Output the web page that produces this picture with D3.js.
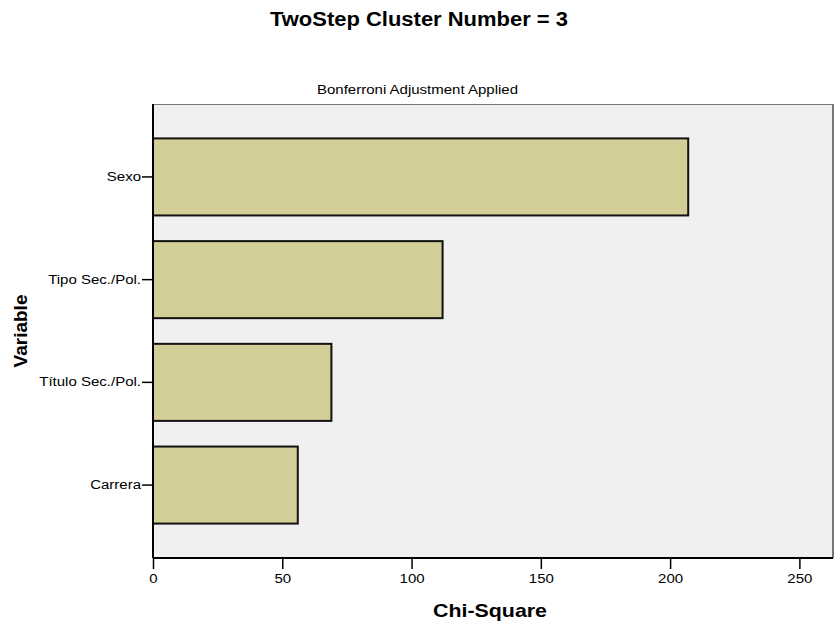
<!DOCTYPE html>
<html><head><meta charset="utf-8">
<script src="https://cdn.jsdelivr.net/npm/d3@7"></script>
<style>body{margin:0;background:#fff}svg{display:block;font-family:Arial,"Liberation Sans",sans-serif}</style>
</head><body><svg id="c" width="836" height="625"></svg>
<script>
const categories = ["Sexo", "Tipo Sec./Pol.", "Título Sec./Pol.", "Carrera"];
const chiSquare = [207, 112, 69, 56];
const xTicks = [0, 50, 100, 150, 200, 250];

const svg = d3.select("#c");
const m = {left:153, right:833, top:104, bottom:558};
const x = d3.scaleLinear().domain([0, 263]).range([m.left, m.right]);
const y = d3.scaleBand().domain(categories).range([m.top, m.bottom]).paddingInner(0.25).paddingOuter(0.335);

svg.append("rect").attr("x", m.left).attr("y", m.top).attr("width", m.right-m.left).attr("height", m.bottom-m.top)
  .attr("fill", "#f0f0f0");
svg.append("line").attr("x1", m.left).attr("x2", m.right).attr("y1", m.top+0.5).attr("y2", m.top+0.5).attr("stroke", "#777").attr("stroke-width", 1);
svg.append("line").attr("x1", m.right).attr("x2", m.right).attr("y1", m.top).attr("y2", m.bottom).attr("stroke", "#777").attr("stroke-width", 2);

svg.selectAll("rect.bar").data(categories).enter().append("rect").attr("class","bar")
  .attr("x", x(0)).attr("y", d => y(d))
  .attr("width", (d,i) => x(chiSquare[i]) - x(0)).attr("height", y.bandwidth())
  .attr("fill", "#d3ce97").attr("stroke", "#111").attr("stroke-width", 2);

const xAxis = svg.append("g").attr("transform", `translate(0,${m.bottom})`)
  .call(d3.axisBottom(x).tickValues(xTicks).tickSize(11).tickSizeOuter(0).tickPadding(5));
const yAxis = svg.append("g").attr("transform", `translate(${m.left},0)`)
  .call(d3.axisLeft(y).tickSize(11).tickSizeOuter(0).tickPadding(1));
[xAxis, yAxis].forEach(a => {
  a.select(".domain").attr("stroke", "#000").attr("stroke-width", 2);
  a.selectAll(".tick line").attr("stroke", "#000").attr("stroke-width", 1.5);
  a.selectAll("text").attr("font-size", 12.5).attr("fill", "#000").attr("font-family", "Arial, 'Liberation Sans', sans-serif")
    .attr("class", "stretch");
});
xAxis.select(".domain").attr("d", `M${m.left},0H${m.right}`);
yAxis.select(".domain").attr("d", `M0,${m.top}V${m.bottom}`);

svg.append("text").attr("x", 419).attr("y", 26).attr("text-anchor", "middle")
  .attr("font-size", 19.5).attr("font-weight", "bold").attr("data-w", 298).text("TwoStep Cluster Number = 3");
svg.append("text").attr("x", 417.5).attr("y", 94).attr("text-anchor", "middle")
  .attr("font-size", 12.5).attr("class", "stretch").text("Bonferroni Adjustment Applied");
svg.append("text").attr("x", 490).attr("y", 617).attr("text-anchor", "middle")
  .attr("font-size", 19).attr("font-weight", "bold").attr("data-w", 114).text("Chi-Square");
svg.append("text").attr("transform", `translate(27,${(m.top+m.bottom)/2}) rotate(-90)`).attr("text-anchor", "middle")
  .attr("font-size", 19).attr("font-weight", "bold").text("Variable");

// horizontal stretch to match the reference's wide glyphs
svg.selectAll("text.stretch").each(function(){
  const len = this.getComputedTextLength();
  d3.select(this).attr("textLength", len * 1.2).attr("lengthAdjust", "spacingAndGlyphs");
});
svg.selectAll("text[data-w]").each(function(){
  d3.select(this).attr("textLength", +this.getAttribute("data-w")).attr("lengthAdjust", "spacingAndGlyphs");
});
</script></body></html>
